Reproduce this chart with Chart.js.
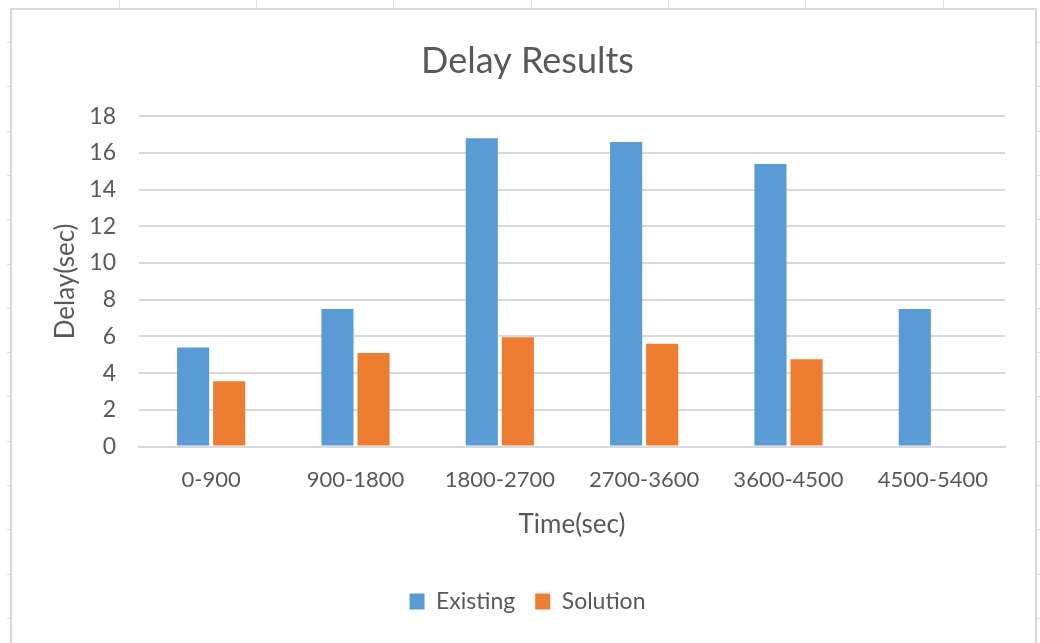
<!DOCTYPE html>
<html>
<head>
<meta charset="utf-8">
<script src="https://cdn.jsdelivr.net/npm/chart.js@4"></script>
<style>
  html, body { margin: 0; padding: 0; background: #ffffff; }
  #wrap { position: relative; width: 1040px; height: 643px; }
</style>
</head>
<body>
<div id="wrap"><canvas id="c" width="1040" height="643"></canvas></div>
<script>
// Time windows (seconds) and measured delays
const categories = ['0-900', '900-1800', '1800-2700', '2700-3600', '3600-4500', '4500-5400'];
const existingDelay = [5.4, 7.5, 16.8, 16.6, 15.4, 7.5];
const solutionDelay = [3.55, 5.1, 5.95, 5.6, 4.75, null];
const yTicks = [0, 2, 4, 6, 8, 10, 12, 14, 16, 18];

const textGray = '#595959';
const gridGray = '#d9d9d9';
const fontFamily = 'Lato, "Open Sans", "Liberation Sans", sans-serif';

// Worksheet frame behind the chart object
const sheetFrame = {
  id: 'sheetFrame',
  beforeDraw(chart) {
    const ctx = chart.ctx;
    ctx.save();
    ctx.fillStyle = '#ffffff';
    ctx.fillRect(0, 0, chart.width, chart.height);
    ctx.strokeStyle = '#e0e0e0';
    ctx.lineWidth = 1;
    // column separators above the frame
    [119, 256, 393, 531, 668, 805, 943].forEach(x => {
      ctx.beginPath(); ctx.moveTo(x + 0.5, 0); ctx.lineTo(x + 0.5, 8); ctx.stroke();
    });
    // row separators beside the frame
    for (let y = 42; y < chart.height; y += 44.3) {
      const yy = Math.round(y) + 0.5;
      ctx.beginPath(); ctx.moveTo(7, yy); ctx.lineTo(11, yy); ctx.stroke();
      ctx.beginPath(); ctx.moveTo(1036, yy); ctx.lineTo(1040, yy); ctx.stroke();
    }
    // chart object border
    ctx.strokeStyle = '#d9d9d9';
    ctx.lineWidth = 2;
    ctx.beginPath();
    ctx.moveTo(11, chart.height + 5);
    ctx.lineTo(11, 9);
    ctx.lineTo(1036, 9);
    ctx.lineTo(1036, chart.height + 5);
    ctx.stroke();
    ctx.restore();
  }
};

new Chart(document.getElementById('c'), {
  type: 'bar',
  data: {
    labels: categories,
    datasets: [
      { label: 'Existing', data: existingDelay, backgroundColor: '#5B9BD5', borderWidth: 0,
        categoryPercentage: 0.5, barPercentage: 0.89 },
      { label: 'Solution', data: solutionDelay, backgroundColor: '#ED7D31', borderWidth: 0,
        categoryPercentage: 0.5, barPercentage: 0.89 }
    ]
  },
  options: {
    responsive: false,
    animation: false,
    devicePixelRatio: 1,
    layout: { padding: { left: 50, right: 35, top: 40, bottom: 20 } },
    plugins: {
      title: {
        display: true,
        text: 'Delay Results',
        color: textGray,
        font: { family: fontFamily, size: 36, weight: 'normal' },
        padding: { top: 0, bottom: 33 }
      },
      legend: {
        position: 'bottom',
        labels: {
          color: textGray,
          font: { family: fontFamily, size: 23 },
          boxWidth: 15,
          boxHeight: 16,
          padding: 20
        }
      },
      tooltip: { enabled: false }
    },
    scales: {
      x: {
        afterFit(scale) { scale.height = 123.5; },
        grid: { display: false, drawTicks: false },
        border: { display: true, color: gridGray, width: 2 },
        ticks: { color: textGray, font: { family: fontFamily, size: 22 }, padding: 20 },
        title: {
          display: true, text: 'Time(sec)', color: textGray,
          font: { family: fontFamily, size: 26 },
          padding: { top: 0, bottom: 30 }
        }
      },
      y: {
        min: 0, max: 18,
        afterBuildTicks(scale) { scale.ticks = yTicks.map(v => ({ value: v })); },
        afterFit(scale) { scale.width = 89; },
        grid: { color: gridGray, lineWidth: 2, drawTicks: false },
        border: { display: false },
        ticks: { color: textGray, font: { family: fontFamily, size: 23 }, padding: 23 },
        title: {
          display: true, text: 'Delay(sec)', color: textGray,
          font: { family: fontFamily, size: 26 },
          padding: { top: 0, bottom: 0 }
        }
      }
    }
  },
  plugins: [sheetFrame]
});
</script>
</body>
</html>
